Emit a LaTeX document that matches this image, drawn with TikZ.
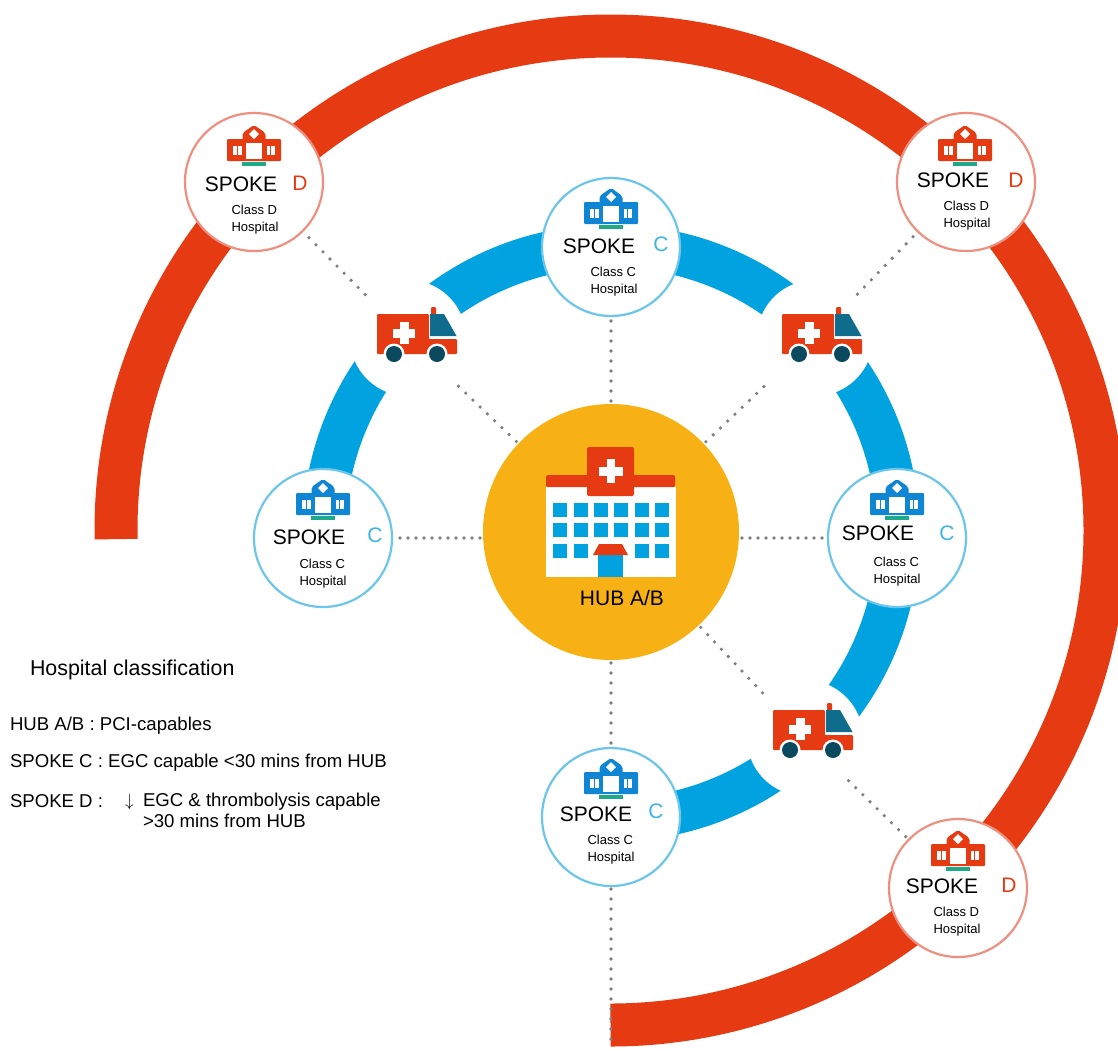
\documentclass[tikz,border=0pt]{standalone}
\usepackage{fontspec}
\setmainfont{Liberation Sans}
\definecolor{redarc}{HTML}{E63B12}
\definecolor{bluearc}{HTML}{00A3E0}
\definecolor{hubgold}{HTML}{F8B114}
\definecolor{cring}{HTML}{6CC6EC}
\definecolor{dring}{HTML}{EE8F80}
\definecolor{cletter}{HTML}{3DB4E8}
\definecolor{iconblue}{HTML}{0E86D4}
\definecolor{iconred}{HTML}{E63B12}
\definecolor{dotgray}{HTML}{7F7F7F}
\definecolor{cabteal}{HTML}{0F6C8C}
\definecolor{wheeldark}{HTML}{0B4A5E}
\definecolor{bargreen}{HTML}{1FA98A}
\tikzset{
  every node/.style={inner sep=0pt,outer sep=0pt},
  spokering/.style={circle,draw=#1,fill=white,line width=2.2pt,minimum size=138pt},
  gapdisc/.style={circle,fill=white,minimum size=116pt},
  hubdisc/.style={circle,fill=hubgold,minimum size=256pt},
  linkdots/.style={dotgray,line width=3.6pt,line cap=round,dash pattern=on 0pt off 10pt,shorten >=3pt,shorten <=3pt},
  spoketext/.style={font=\fontsize{21}{21}\selectfont,text=black},
  letterc/.style={font=\fontsize{21}{21}\selectfont,text=cletter},
  letterd/.style={font=\fontsize{21}{21}\selectfont,text=redarc},
  classtext/.style={font=\fontsize{13}{17}\selectfont,align=left,text=black},
  legendhead/.style={font=\fontsize{21.4}{22}\selectfont,anchor=base west},
  legendtext/.style={font=\fontsize{18.6}{20}\selectfont,anchor=base west},
  pics/smallhosp/.style={code={
    \fill[bargreen] (-12,-37) rectangle (12,-41);
    \fill[#1,rounded corners=1pt] (-27,-14) rectangle (27,-36);
    \fill[#1,rounded corners=2pt] (-11.5,-34) -- (-11.5,-8) -- (0,0) -- (11.5,-8) -- (11.5,-34) -- cycle;
    \fill[white] (-8,-18) rectangle (8,-34);
    \fill[white] (0,-4) -- (5,-9) -- (0,-14) -- (-5,-9) -- cycle;
    \fill[white] (-21,-21) rectangle (-17,-30);
    \fill[white] (-16,-21) rectangle (-12.5,-30);
    \fill[white] (12.5,-21) rectangle (16,-30);
    \fill[white] (17,-21) rectangle (21,-30);
  }},
  pics/ambulance/.style={code={
    \fill[redarc,rounded corners=1pt] (54,0) rectangle (59,-9);
    \fill[redarc,rounded corners=1pt] (0,-7) rectangle (52,-47);
    \fill[redarc,rounded corners=1pt] (50,-32) rectangle (80,-47);
    \fill[cabteal] (53,-7) -- (67,-7) -- (79.5,-29) -- (53,-29) -- cycle;
    \fill[white] (16,-22) rectangle (38,-31);
    \fill[white] (22.5,-15) rectangle (31.5,-37);
    \fill[white] (17,-47) circle (10.5);
    \fill[white] (60,-47) circle (10.5);
    \fill[wheeldark] (17,-47) circle (8);
    \fill[wheeldark] (60,-47) circle (8);
  }}
}
\begin{document}
\begin{tikzpicture}[x=1pt,y=1pt]
\useasboundingbox (0,0) rectangle (1118,-1050);
\fill[white] (0,0) rectangle (1118,-1050);
% arcs
\draw[redarc,line width=43pt] (610.5,-530.5) ++(181:494.5pt) arc[start angle=181,end angle=-90,radius=494.5pt];
\draw[bluearc,line width=43pt] (611,-533) ++(180:287pt) arc[start angle=180,end angle=-90,radius=287pt];
% gaps around the ambulances
\node[gapdisc] (ambTL) at (408,-338) {};
\node[gapdisc] (ambTR) at (815,-338) {};
\node[gapdisc] (ambBR) at (805,-738) {};
% hub
\node[hubdisc] (hub) at (611,-532) {};
% spokes
\node[spokering=dring] (dTL) at (254,-182) {};
\node[spokering=dring] (dTR) at (966,-182) {};
\node[spokering=dring] (dBR) at (958,-888) {};
\node[spokering=cring] (cT) at (611,-247) {};
\node[spokering=cring] (cL) at (323,-538) {};
\node[spokering=cring] (cR) at (897,-538) {};
\node[spokering=cring] (cB) at (611,-817) {};
\coordinate (tail) at (611,-1049);
\coordinate (hubW) at (hub.west |- cL);
\coordinate (hubE) at (hub.east |- cR);
% connectors
\draw[linkdots] (hub) -- (cT);
\draw[linkdots,dash pattern=on 0pt off 8pt] (hubW) -- (cL);
\draw[linkdots,dash pattern=on 0pt off 8pt] (hubE) -- (cR);
\draw[linkdots] (hub) -- (cB);
\draw[linkdots] (cB) -- (tail);
\draw[linkdots] (hub) -- (ambTL);
\draw[linkdots] (hub) -- (ambTR);
\draw[linkdots] (hub) -- (ambBR);
\draw[linkdots] (ambTL) -- (dTL);
\draw[linkdots] (ambTR) -- (dTR);
\draw[linkdots] (ambBR) -- (dBR);
% hub building
\fill[white] (545.7,-487) rectangle (676,-577);
\fill[redarc,rounded corners=1.5pt] (546,-475) rectangle (675,-487);
\fill[redarc,rounded corners=2pt] (587,-447) rectangle (634,-496);
\fill[white] (606.5,-459) rectangle (615,-483);
\fill[white] (599,-467) rectangle (623,-475.5);
\foreach \wx in {553,574,594,614,635,655}{
  \foreach \wy in {503,523}{ \fill[bluearc] (\wx,-\wy) rectangle ++(13.5,-14); }
}
\foreach \wx in {553,574,635,655}{ \fill[bluearc] (\wx,-544) rectangle ++(13.5,-14); }
\fill[bluearc] (598,-555) rectangle (623,-577);
\fill[redarc] (599,-544) -- (622,-544) -- (628,-555) -- (593,-555) -- cycle;
\node[spoketext] (hubtext) at (622,-598) {HUB A/B};
% ambulances
\pic at (377,-307) {ambulance};
\pic at (782,-307) {ambulance};
\pic at (773,-703) {ambulance};
% spoke icons
\pic at (254,-125) {smallhosp=iconred};
\pic at (965,-125) {smallhosp=iconred};
\pic at (958,-830) {smallhosp=iconred};
\pic at (611,-188) {smallhosp=iconblue};
\pic at (323,-479) {smallhosp=iconblue};
\pic at (897,-479) {smallhosp=iconblue};
\pic at (611,-758) {smallhosp=iconblue};
% spoke labels
\node[spoketext] (sTL) at (241,-184) {SPOKE};
\node[letterd] (lTL) at (300,-183) {D};
\node[classtext] (kTL) at (255,-220) {Class D\\Hospital};
\node[spoketext] (sTR) at (953,-180) {SPOKE};
\node[letterd] (lTR) at (1016,-180) {D};
\node[classtext] (kTR) at (967,-216) {Class D\\Hospital};
\node[spoketext] (sT) at (599,-246) {SPOKE};
\node[letterc] (lT) at (661,-244) {C};
\node[classtext] (kT) at (614,-282) {Class C\\Hospital};
\node[spoketext] (sL) at (309,-537) {SPOKE};
\node[letterc] (lL) at (375,-535) {C};
\node[classtext] (kL) at (323,-574) {Class C\\Hospital};
\node[spoketext] (sR) at (878,-533) {SPOKE};
\node[letterc] (lR) at (947,-533) {C};
\node[classtext] (kR) at (897,-572) {Class C\\Hospital};
\node[spoketext] (sB) at (596,-814) {SPOKE};
\node[letterc] (lB) at (656,-811) {C};
\node[classtext] (kB) at (611,-850) {Class C\\Hospital};
\node[spoketext] (sBR) at (942,-886) {SPOKE};
\node[letterd] (lBR) at (1009,-885) {D};
\node[classtext] (kBR) at (957,-922) {Class D\\Hospital};
% legend
\node[legendhead] (legA) at (30,-675) {Hospital classification};
\node[legendtext] (legB) at (10,-730) {HUB A/B : PCI-capables};
\node[legendtext] (legC) at (10,-767) {SPOKE C : EGC capable <30 mins from HUB};
\node[legendtext] (legD) at (10,-807) {SPOKE D :};
\node[legendtext] (legArrow) at (125,-806) {\fontsize{17}{17}\selectfont$\downarrow$};
\node[legendtext] (legE) at (143,-806) {EGC \& thrombolysis capable};
\node[legendtext] (legF) at (143,-827) {>30 mins from HUB};
\end{tikzpicture}
\end{document}
